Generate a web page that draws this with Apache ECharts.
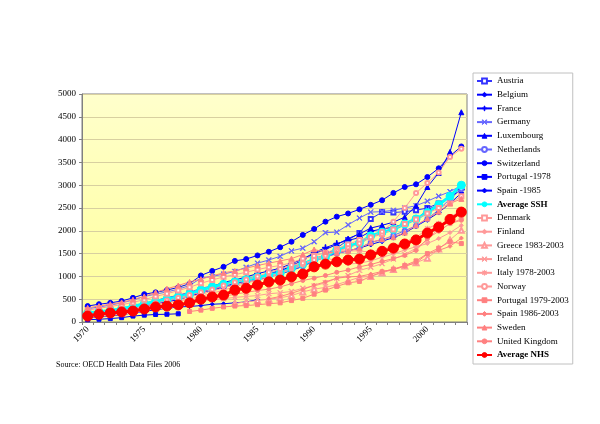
<!DOCTYPE html>
<html><head><meta charset="utf-8">
<script src="https://cdn.jsdelivr.net/npm/echarts@6/dist/echarts.min.js"></script>
<style>html,body{margin:0;padding:0;background:#fff}#c{width:600px;height:424px}</style>
</head><body><div id="c"></div>
<script>
const years = [];
for (let y = 1970; y <= 2003; y++) years.push(String(y));
const yTicks = [0,500,1000,1500,2000,2500,3000,3500,4000,4500,5000];
const N = null;

const austria = [170,200,240,290,340,400,470,530,590,640,700,770,810,870,920,980,1060,1130,1190,1280,1380,1480,1620,1800,1950,2260,2410,2400,2420,2450,2500,2600,2750,2960];
const belgium = [150,175,205,240,285,340,400,440,490,560,640,700,760,820,870,920,990,1050,1130,1220,1350,1440,1510,1560,1620,1700,1770,1850,1950,2100,2240,2400,2600,2830];
const france = [190,215,245,280,330,390,450,510,570,630,700,780,870,920,990,1060,1120,1180,1280,1380,1520,1630,1720,1790,1850,1990,2040,2080,2150,2240,2460,2570,2740,2900];
const germany = [290,330,370,420,480,560,610,660,720,800,960,1000,1050,1110,1200,1290,1360,1440,1560,1620,1760,1960,1970,2130,2280,2410,2420,2450,2500,2550,2650,2760,2860,2990];
const luxembourg = [150,170,200,240,290,350,410,470,530,590,650,720,790,840,900,960,1040,1120,1230,1360,1500,1590,1700,1830,1930,2060,2120,2190,2300,2550,2960,3270,3730,4600];
const netherlands = [200,230,260,300,350,410,470,530,580,650,740,790,840,890,930,970,1020,1080,1140,1220,1330,1420,1500,1560,1620,1750,1800,1900,2000,2110,2260,2460,2700,2910];
const switzerland = [350,390,420,460,530,610,650,700,760,840,1020,1120,1210,1340,1380,1460,1540,1640,1760,1910,2040,2200,2310,2380,2470,2570,2670,2830,2960,3020,3180,3370,3640,3850];
const portugalTo1978 = [50,60,75,95,130,150,165,170,180,N,N,N,N,N,N,N,N,N,N,N,N,N,N,N,N,N,N,N,N,N,N,N,N,N];
const spainTo1985 = [95,110,130,160,200,230,270,300,330,340,360,390,400,420,440,490,N,N,N,N,N,N,N,N,N,N,N,N,N,N,N,N,N,N];
const avgSSH = [200,225,255,290,340,400,450,500,550,610,700,770,830,880,930,980,1030,1070,1180,1270,1380,1430,1580,1670,1730,1890,1970,2030,2150,2260,2400,2570,2760,3000];

const denmark = [260,300,340,380,430,490,560,620,690,760,850,920,990,1040,1090,1150,1200,1240,1300,1390,1450,1520,1600,1700,1800,1850,1930,2030,2150,2250,2380,2500,2600,2760];
const finland = [160,185,210,240,280,330,380,420,460,500,560,630,700,770,850,930,1000,1080,1180,1280,1360,1410,1340,1270,1290,1340,1420,1490,1580,1650,1720,1830,1960,2120];
const greece = [N,N,N,N,N,N,N,N,N,N,N,N,N,410,440,470,500,530,580,660,720,760,820,900,980,1000,1080,1150,1230,1300,1400,1600,1800,2010];
const ireland = [100,120,140,170,200,250,290,310,350,400,450,490,510,540,560,580,620,640,670,740,790,860,960,1020,1130,1200,1280,1380,1480,1620,1800,2060,2300,2450];
const italy = [N,N,N,N,N,N,N,N,500,560,600,680,750,820,870,900,980,1060,1160,1250,1370,1480,1560,1560,1560,1530,1590,1670,1760,1850,2050,2160,2160,2260];
const norway = [140,170,200,240,290,350,410,470,530,590,650,710,800,870,930,1000,1090,1160,1250,1290,1360,1460,1560,1620,1720,1860,1980,2200,2500,2830,3050,3280,3620,3800];
const portugalFrom1979 = [N,N,N,N,N,N,N,N,N,230,260,300,330,350,360,380,400,420,470,520,610,700,780,860,890,1000,1100,1160,1240,1340,1500,1620,1760,1720];
const spainFrom1986 = [N,N,N,N,N,N,N,N,N,N,N,N,N,N,N,N,510,560,630,710,810,880,960,990,1000,1050,1110,1150,1220,1300,1490,1570,1660,1840];
const sweden = [310,350,390,430,490,560,650,730,800,880,940,1010,1080,1120,1180,1240,1290,1340,1390,1480,1590,1530,1520,1560,1620,1740,1820,1860,1960,2120,2270,2420,2600,2700];
const uk = [160,180,200,230,270,310,340,370,400,430,470,520,560,610,650,690,720,770,840,910,960,1020,1090,1140,1210,1260,1330,1390,1460,1570,1830,1990,2160,2230];
const avgNHS = [130,170,200,220,240,285,330,350,375,420,500,550,590,700,740,810,880,920,990,1050,1210,1270,1320,1360,1380,1470,1550,1620,1710,1800,1950,2080,2250,2410];

const PLUS = 'path://M4.4,0H5.6V4.4H10V5.6H5.6V10H4.4V5.6H0V4.4H4.4Z';
const XMARK = 'path://M1.2,0.4L5,4.2L8.8,0.4L9.6,1.2L5.8,5L9.6,8.8L8.8,9.6L5,5.8L1.2,9.6L0.4,8.8L4.2,5L0.4,1.2Z';
const STAR = 'path://M4.5,0H5.5V4.5H10V5.5H5.5V10H4.5V5.5H0V4.5H4.5Z M1.5,0.8L5,4.3L8.5,0.8L9.2,1.5L5.7,5L9.2,8.5L8.5,9.2L5,5.7L1.5,9.2L0.8,8.5L4.3,5L0.8,1.5Z';

function mk(name, data, color, symbol, size, width) {
  return {
    name: name, type: 'line', data: data, symbol: symbol, symbolSize: size,
    showSymbol: true, showAllSymbol: true, connectNulls: false, animation: false,
    lineStyle: {color: color, width: width},
    itemStyle: {color: color, borderColor: color, borderWidth: 1},
    emphasis: {disabled: true}
  };
}
const B = '#0000ff', B2 = '#3333ff', B3 = '#6666ff', P = '#ff9999', P2 = '#ff8080';
const series = [
  mk('Austria', austria, B2, 'emptyRect', 4, 1),
  mk('Belgium', belgium, B, 'diamond', 5, 1),
  mk('France', france, B, PLUS, 6, 1),
  mk('Germany', germany, B3, XMARK, 5, 1),
  mk('Luxembourg', luxembourg, B, 'triangle', 5, 1),
  mk('Netherlands', netherlands, B3, 'emptyCircle', 4, 1),
  mk('Switzerland', switzerland, B, 'circle', 5, 1),
  mk('Portugal -1978', portugalTo1978, B, 'rect', 4, 1),
  mk('Spain -1985', spainTo1985, B, 'diamond', 4, 1),
  mk('Average SSH', avgSSH, '#00ffff', 'circle', 8, 3),
  mk('Denmark', denmark, P, 'emptyRect', 4, 1),
  mk('Finland', finland, P, 'diamond', 4, 1),
  mk('Greece 1983-2003', greece, P, 'emptyTriangle', 5, 1),
  mk('Ireland', ireland, P, XMARK, 5, 1),
  mk('Italy 1978-2003', italy, P, STAR, 5, 1),
  mk('Norway', norway, P, 'emptyCircle', 4, 1),
  mk('Portugal 1979-2003', portugalFrom1979, P2, 'rect', 4, 1),
  mk('Spain 1986-2003', spainFrom1986, P2, 'diamond', 4, 1),
  mk('Sweden', sweden, P2, 'triangle', 5, 1),
  mk('United Kingdom', uk, P2, 'circle', 4, 1),
  mk('Average NHS', avgNHS, '#ff0000', 'circle', 10, 3)
];

const FONT = '"Liberation Serif", "Times New Roman", serif';
const chart = echarts.init(document.getElementById('c'), null, {renderer: 'canvas'});
chart.setOption({
  backgroundColor: '#ffffff',
  animation: false,
  grid: {
    left: 82, top: 94, right: 133, bottom: 102, show: true,
    borderColor: '#808080', borderWidth: 1,
    backgroundColor: new echarts.graphic.LinearGradient(0, 0, 0, 1, [
      {offset: 0, color: '#ffffcc'}, {offset: 1, color: '#ffff99'}
    ])
  },
  xAxis: {
    type: 'category', data: years, boundaryGap: true,
    axisLine: {lineStyle: {color: '#808080'}},
    axisTick: {show: true, interval: 0, length: 3, lineStyle: {color: '#808080'}},
    axisLabel: {interval: 4, rotate: 45, fontFamily: FONT, fontSize: 9, color: '#000', margin: 6},
    splitLine: {show: false}
  },
  yAxis: {
    type: 'value', min: yTicks[0], max: yTicks[yTicks.length - 1], interval: 500,
    axisLine: {show: true, lineStyle: {color: '#808080'}},
    axisTick: {show: true, length: 3, lineStyle: {color: '#808080'}},
    axisLabel: {fontFamily: FONT, fontSize: 9, color: '#000', margin: 6, formatter: function (v) { return String(v); }},
    splitLine: {show: true, lineStyle: {color: '#d8d0a0', width: 1}}
  },
  legend: {
    orient: 'vertical', left: 473, top: 73,
    itemWidth: 15, itemHeight: 6, itemGap: 3.7,
    itemStyle: {borderWidth: 1},
    padding: [3, 4, 4, 3],
    borderColor: '#c0c0c0', borderWidth: 1, backgroundColor: '#ffffff',
    textStyle: {fontFamily: FONT, fontSize: 9, lineHeight: 10, height: 10, color: '#000',
      rich: {b: {fontFamily: FONT, fontSize: 9, lineHeight: 10, height: 10, fontWeight: 'bold'}}},
    formatter: function (n) { return n.indexOf('Average') === 0 ? '{b|' + n + '}' : n; },
    selectedMode: false
  },
  graphic: [{
    type: 'text', left: 56, top: 361,
    style: {text: 'Source: OECD Health Data Files 2006', font: '8px ' + FONT, fill: '#000'}
  }],
  series: series
});
</script></body></html>
